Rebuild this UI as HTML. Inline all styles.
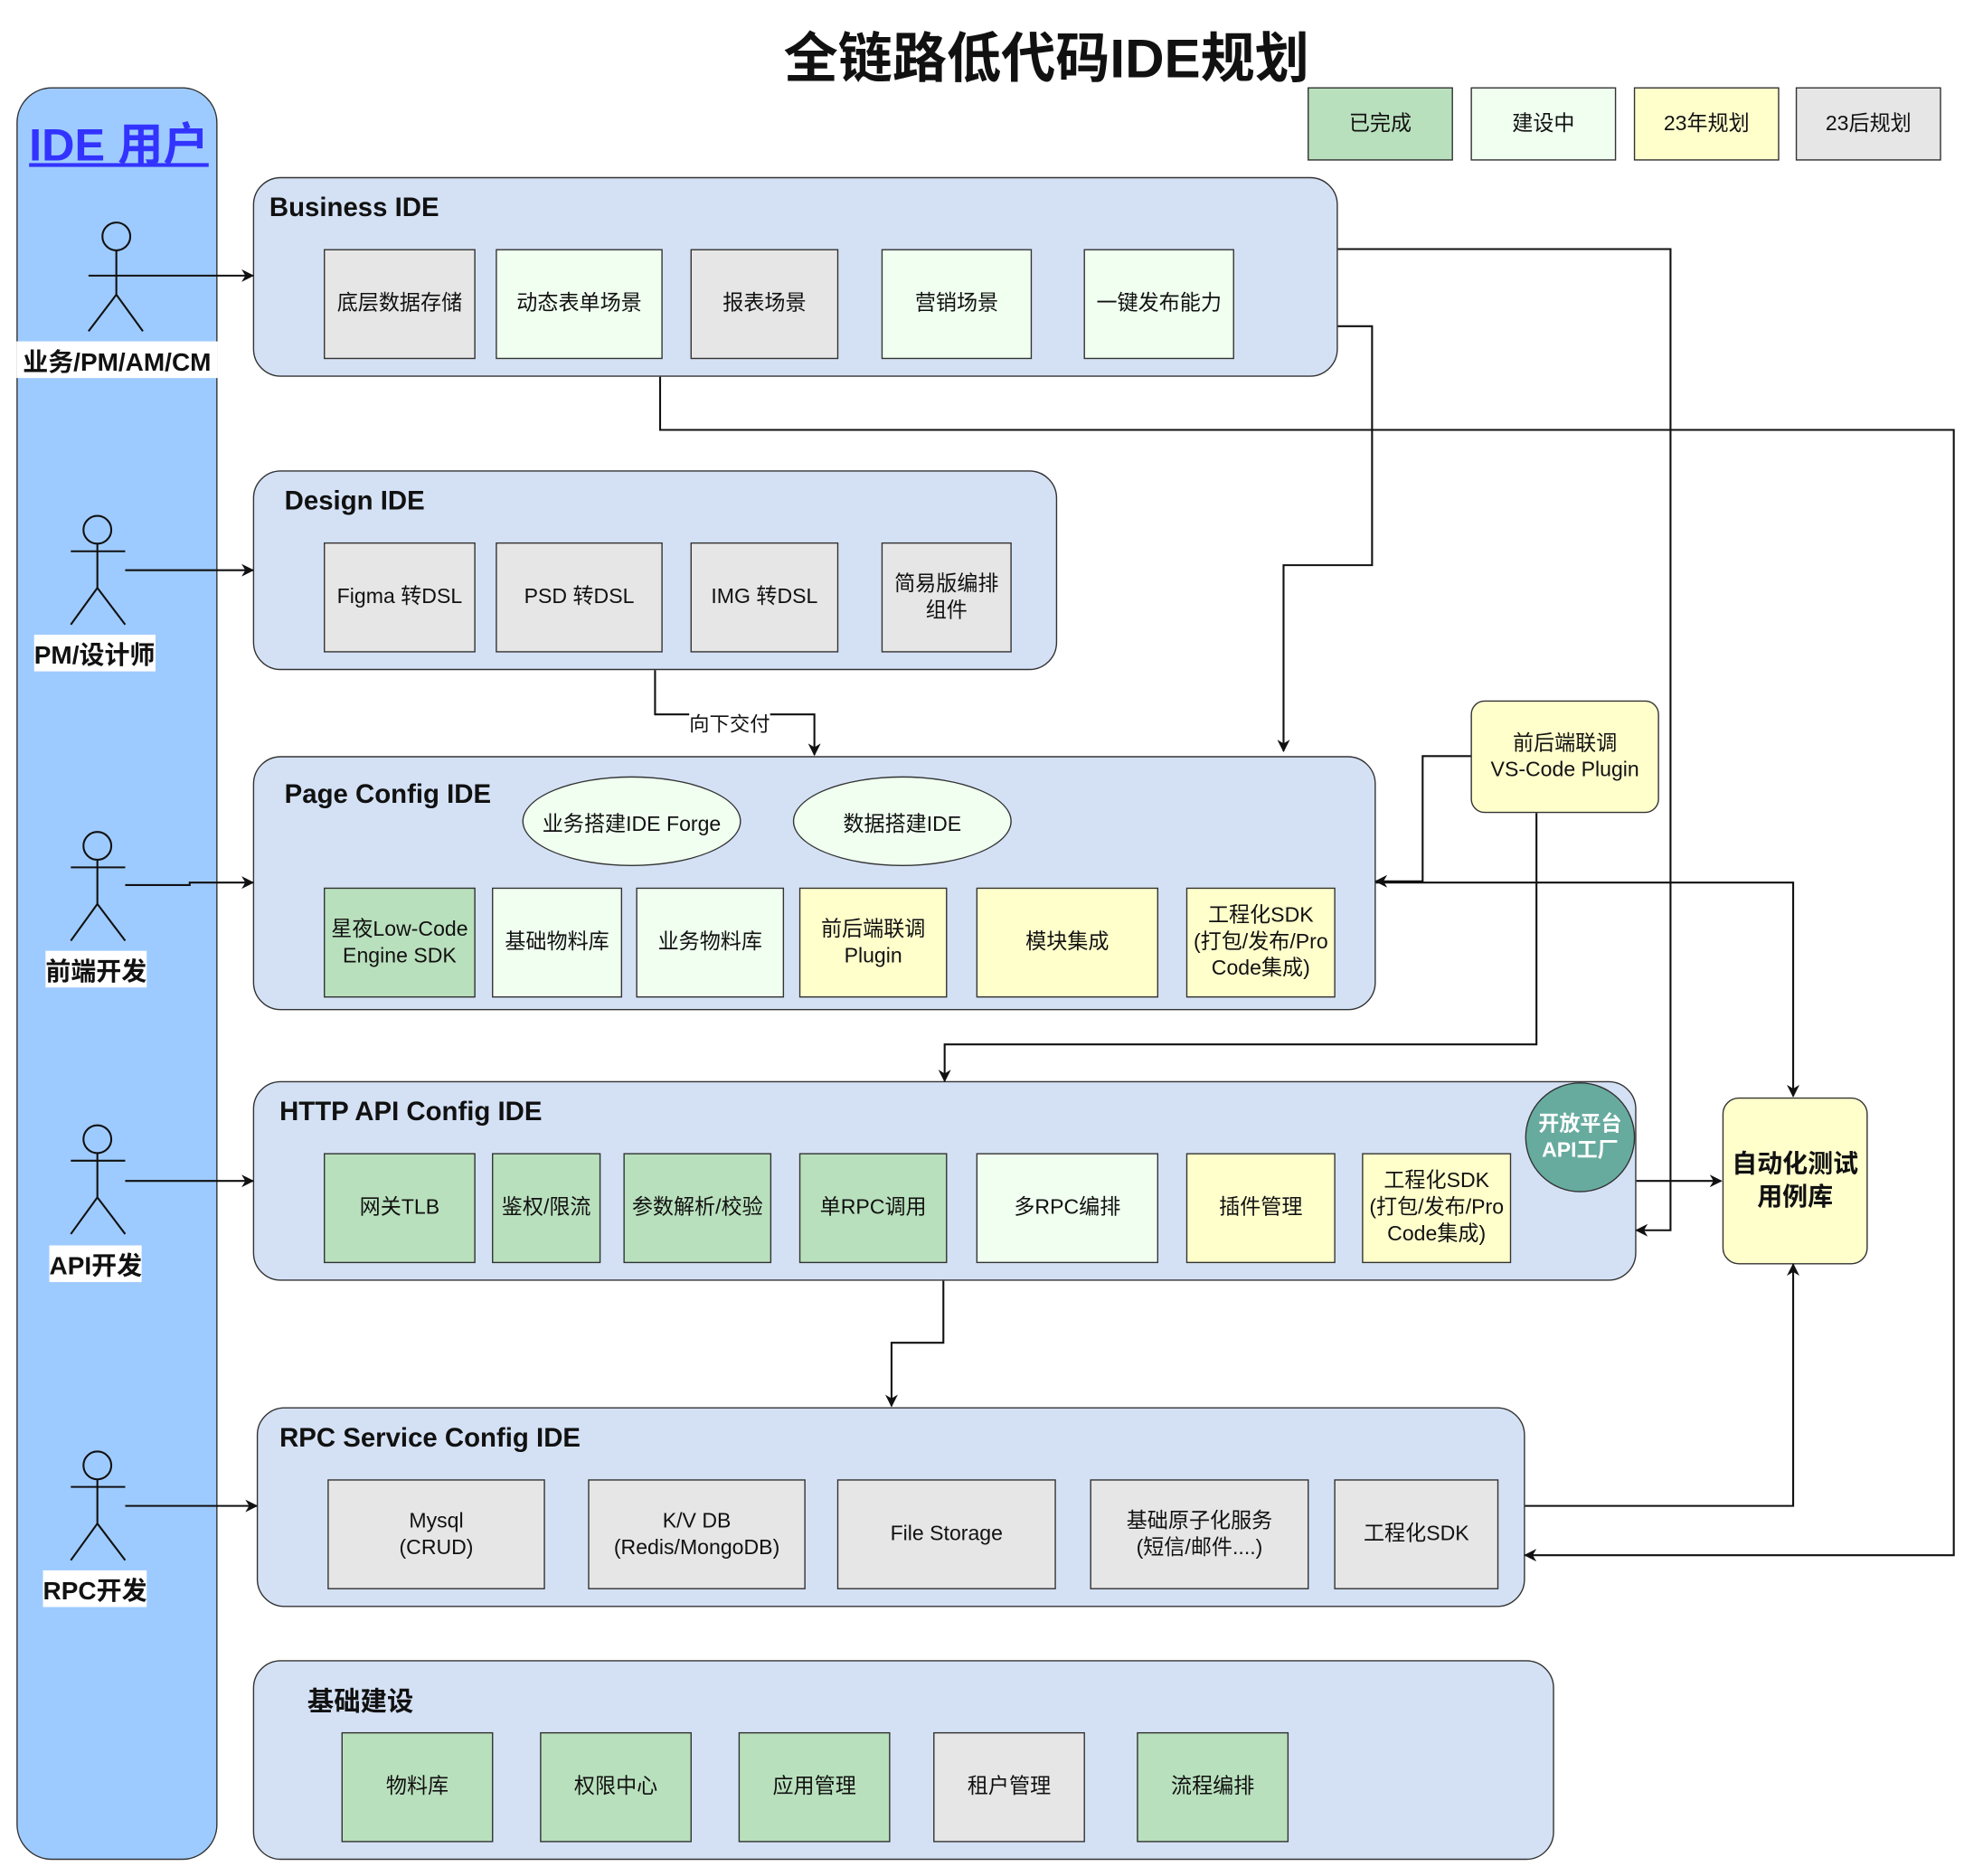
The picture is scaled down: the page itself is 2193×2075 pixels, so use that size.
<!DOCTYPE html>
<html><head><meta charset="utf-8"><style>
html,body{margin:0;padding:0;background:#fff;}
body{width:2193px;height:2074px;overflow:hidden;position:relative;}
#w{position:absolute;left:0;top:0;width:1570px;height:1484px;transform:scale(1.3985);transform-origin:0 0;font-family:"Liberation Sans","Noto Sans CJK SC",sans-serif;color:#111;}
.a{position:absolute;box-sizing:border-box;}
.c{background:#d4e1f5;border:1.5px solid #333;border-radius:22px;}
.b{border:1.5px solid #333;display:flex;align-items:center;justify-content:center;text-align:center;font-size:16.5px;line-height:21px;}
.g{background:#b9e0bd;} .l{background:#f0fff0;} .y{background:#ffffcc;} .k{background:#e6e6e6;}
.t{font-weight:bold;font-size:21px;white-space:nowrap;}
.lab{font-weight:bold;font-size:20px;background:#fff;white-space:nowrap;}
.el{border:1.5px solid #333;border-radius:50%;background:#f0fff0;display:flex;align-items:center;justify-content:center;font-size:16.5px;}
</style></head><body><div id="w">
<div class="a" style="left:0;top:12px;width:1655px;text-align:center;font-size:43px;font-weight:bold;">全链路低代码IDE规划</div>
<div class="a b g" style="left:1034px;top:69px;width:115px;height:58px;">已完成</div>
<div class="a b l" style="left:1163px;top:69px;width:115px;height:58px;">建设中</div>
<div class="a b y" style="left:1292px;top:69px;width:115px;height:58px;">23年规划</div>
<div class="a b k" style="left:1420px;top:69px;width:115px;height:58px;">23后规划</div>

<div class="a" style="left:13px;top:69px;width:159px;height:1402px;background:#9ecbff;border:1.5px solid #333;border-radius:28px;"></div>
<div class="a" style="left:23px;top:86px;font-size:36px;font-weight:bold;color:#3333ff;text-decoration:underline;white-space:nowrap;">IDE 用户</div>

<div class="a c" style="left:200px;top:140px;width:858px;height:158px;"></div>
<div class="a t" style="left:213px;top:153px;">Business IDE</div>
<div class="a b k" style="left:256px;top:197px;width:120px;height:87px;">底层数据存储</div>
<div class="a b l" style="left:392px;top:197px;width:132px;height:87px;">动态表单场景</div>
<div class="a b k" style="left:546px;top:197px;width:117px;height:87px;">报表场景</div>
<div class="a b l" style="left:697px;top:197px;width:119px;height:87px;">营销场景</div>
<div class="a b l" style="left:857px;top:197px;width:119px;height:87px;">一键发布能力</div>

<div class="a c" style="left:200px;top:372px;width:636px;height:158px;"></div>
<div class="a t" style="left:225px;top:385px;">Design IDE</div>
<div class="a b k" style="left:256px;top:429px;width:120px;height:87px;">Figma 转DSL</div>
<div class="a b k" style="left:392px;top:429px;width:132px;height:87px;">PSD 转DSL</div>
<div class="a b k" style="left:546px;top:429px;width:117px;height:87px;">IMG 转DSL</div>
<div class="a b k" style="left:697px;top:429px;width:103px;height:87px;">简易版编排<br>组件</div>

<div class="a c" style="left:200px;top:598px;width:888px;height:201px;"></div>
<div class="a t" style="left:225px;top:617px;">Page Config IDE</div>
<div class="a el" style="left:413px;top:614px;width:173px;height:71px;">业务搭建IDE Forge</div>
<div class="a el" style="left:627px;top:614px;width:173px;height:71px;">数据搭建IDE</div>
<div class="a b g" style="left:256px;top:702px;width:120px;height:87px;">星夜Low-Code<br>Engine SDK</div>
<div class="a b l" style="left:389px;top:702px;width:103px;height:87px;">基础物料库</div>
<div class="a b l" style="left:503px;top:702px;width:117px;height:87px;">业务物料库</div>
<div class="a b y" style="left:632px;top:702px;width:117px;height:87px;">前后端联调<br>Plugin</div>
<div class="a b y" style="left:772px;top:702px;width:144px;height:87px;">模块集成</div>
<div class="a b y" style="left:938px;top:702px;width:118px;height:87px;">工程化SDK<br>(打包/发布/Pro<br>Code集成)</div>

<div class="a c" style="left:200px;top:855px;width:1094px;height:158px;"></div>
<div class="a t" style="left:221px;top:868px;">HTTP API Config IDE</div>
<div class="a b g" style="left:256px;top:912px;width:120px;height:87px;">网关TLB</div>
<div class="a b g" style="left:389px;top:912px;width:86px;height:87px;">鉴权/限流</div>
<div class="a b g" style="left:493px;top:912px;width:117px;height:87px;">参数解析/校验</div>
<div class="a b g" style="left:632px;top:912px;width:117px;height:87px;">单RPC调用</div>
<div class="a b l" style="left:772px;top:912px;width:144px;height:87px;">多RPC编排</div>
<div class="a b y" style="left:938px;top:912px;width:118px;height:87px;">插件管理</div>
<div class="a b y" style="left:1077px;top:912px;width:118px;height:87px;">工程化SDK<br>(打包/发布/Pro<br>Code集成)</div>
<div class="a" style="left:1206px;top:856px;width:87px;height:87px;border-radius:50%;background:#67ab9f;border:1.5px solid #333;color:#fff;font-weight:bold;font-size:16.5px;line-height:21px;display:flex;align-items:center;justify-content:center;text-align:center;">开放平台<br>API工厂</div>

<div class="a c" style="left:203px;top:1113px;width:1003px;height:158px;"></div>
<div class="a t" style="left:221px;top:1126px;">RPC Service Config IDE</div>
<div class="a b k" style="left:259px;top:1170px;width:172px;height:87px;">Mysql<br>(CRUD)</div>
<div class="a b k" style="left:465px;top:1170px;width:172px;height:87px;">K/V DB<br>(Redis/MongoDB)</div>
<div class="a b k" style="left:662px;top:1170px;width:173px;height:87px;">File Storage</div>
<div class="a b k" style="left:862px;top:1170px;width:173px;height:87px;">基础原子化服务<br>(短信/邮件....)</div>
<div class="a b k" style="left:1055px;top:1170px;width:130px;height:87px;">工程化SDK</div>

<div class="a c" style="left:200px;top:1313px;width:1029px;height:158px;"></div>
<div class="a t" style="left:243px;top:1330px;">基础建设</div>
<div class="a b g" style="left:270px;top:1370px;width:120px;height:87px;">物料库</div>
<div class="a b g" style="left:427px;top:1370px;width:120px;height:87px;">权限中心</div>
<div class="a b g" style="left:584px;top:1370px;width:120px;height:87px;">应用管理</div>
<div class="a b k" style="left:738px;top:1370px;width:120px;height:87px;">租户管理</div>
<div class="a b g" style="left:899px;top:1370px;width:120px;height:87px;">流程编排</div>

<div class="a b y" style="left:1163px;top:554px;width:149px;height:89px;border-radius:11px;">前后端联调<br>VS-Code Plugin</div>
<div class="a b y" style="left:1362px;top:868px;width:115px;height:132px;border-radius:13px;font-weight:bold;font-size:20px;line-height:26px;">自动化测试<br>用例库</div>

<svg class="a" style="left:0;top:0;" width="1570" height="1484" fill="none" stroke="#111" stroke-width="1.5">
<defs><marker id="m" markerWidth="10" markerHeight="10" refX="9" refY="5" orient="auto" markerUnits="userSpaceOnUse"><path d="M0,0 L10,5 L0,10 L3,5 Z" fill="#111" stroke="none"/></marker></defs>
<g>
<circle cx="92" cy="187" r="11"/><path d="M92,198 V233 M70,218 H113 M92,233 L70,262 M92,233 L113,262"/>
<circle cx="77" cy="419" r="11"/><path d="M77,430 V465 M56,436 H99 M77,465 L56,494 M77,465 L99,494"/>
<circle cx="77" cy="669" r="11"/><path d="M77,680 V715 M56,686 H99 M77,715 L56,744 M77,715 L99,744"/>
<circle cx="77" cy="901" r="11"/><path d="M77,912 V947 M56,918 H99 M77,947 L56,976 M77,947 L99,976"/>
<circle cx="77" cy="1159" r="11"/><path d="M77,1170 V1205 M56,1176 H99 M77,1205 L56,1234 M77,1205 L99,1234"/>
</g>
<g marker-end="url(#m)">
<path d="M113,218 H200"/>
<path d="M99,451 H200"/>
<path d="M99,700 H150 V698 H200"/>
<path d="M99,934 H200"/>
<path d="M99,1191 H203"/>
<path d="M1058,197 H1321 V973 H1294"/>
<path d="M1058,258 H1085 V447 H1015 V594"/>
<path d="M522,298 V340 H1545 V1230 H1206"/>
<path d="M518,530 V565 H644 V597"/>
<path d="M1163,598 H1125 V697 H1088"/>
<path d="M1088,698 H1418 V867"/>
<path d="M1215,643 V826 H747 V855"/>
<path d="M1294,934 H1361"/>
<path d="M1206,1191 H1418 V1000"/>
<path d="M746,1013 V1062 H705 V1112"/>
</g>
</svg>
<div class="a" style="left:545px;top:559px;font-size:16px;background:#fff;">向下交付</div>
<div class="a lab" style="left:13px;top:270px;width:159px;text-align:center;">业务/PM/AM/CM</div>
<div class="a lab" style="left:27px;top:502px;">PM/设计师</div>
<div class="a lab" style="left:36px;top:752px;">前端开发</div>
<div class="a lab" style="left:39px;top:985px;">API开发</div>
<div class="a lab" style="left:34px;top:1242px;">RPC开发</div>
</div></body></html>
